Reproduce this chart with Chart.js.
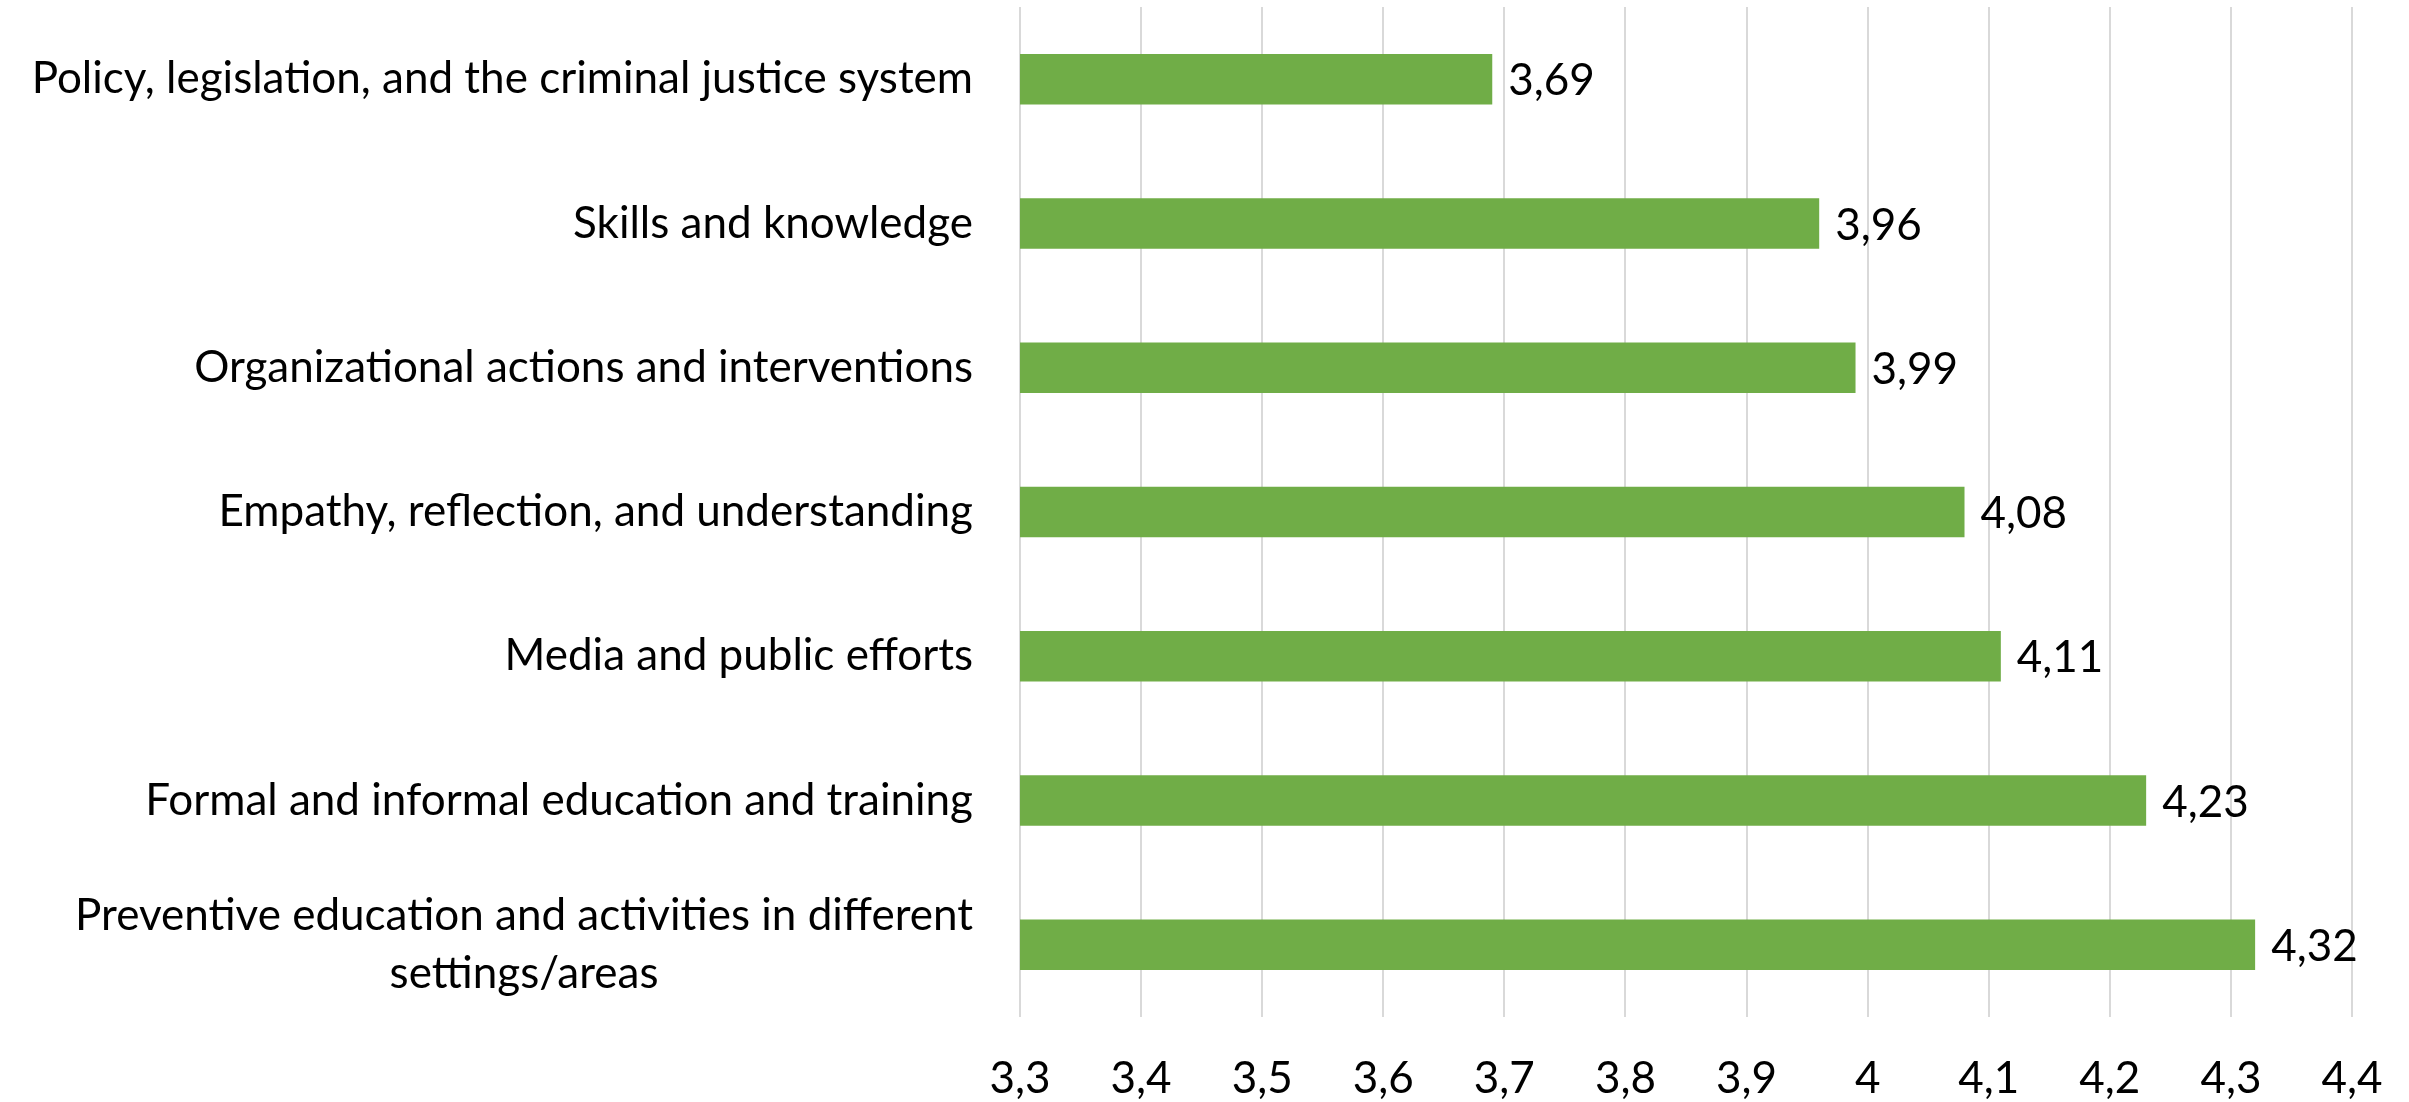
<!DOCTYPE html>
<html>
<head>
<meta charset="utf-8">
<script src="https://cdn.jsdelivr.net/npm/chart.js@4"></script>
<style>
  html, body { margin: 0; padding: 0; background: #fff; }
  #wrap { width: 2409px; height: 1102px; }
</style>
</head>
<body>
<div id="wrap"><canvas id="myChart" width="2409" height="1102"></canvas></div>
<script>
var categories = [
  ["Policy, legislation, and the criminal justice system"],
  ["Skills and knowledge"],
  ["Organizational actions and interventions"],
  ["Empathy, reflection, and understanding"],
  ["Media and public efforts"],
  ["Formal and informal education and training"],
  ["Preventive education and activities in different", "settings/areas"]
];
var scores = [3.69, 3.96, 3.99, 4.08, 4.11, 4.23, 4.32];

var axisMin = 3.3;
var axisMax = 4.4;
var axisStep = 0.1;

var FONT = "Lato, 'Liberation Sans', sans-serif";
var FONT_SIZE = 44;

function commaNum(v) {
  return String(Number(v.toFixed(2))).replace(".", ",");
}

// category names drawn left of the plot, multi-line ones centred on their widest line
var categoryLabels = {
  id: "categoryLabels",
  afterDraw: function (chart) {
    var ctx = chart.ctx;
    var yScale = chart.scales.y;
    var right = chart.chartArea.left - 47;
    var lineGap = 58;
    ctx.save();
    ctx.font = FONT_SIZE + "px " + FONT;
    ctx.fillStyle = "#000";
    ctx.textAlign = "center";
    ctx.textBaseline = "middle";
    categories.forEach(function (lines, i) {
      var w = Math.max.apply(null, lines.map(function (l) { return ctx.measureText(l).width; }));
      var cx = right - w / 2;
      var cy = yScale.getPixelForValue(i);
      var y0 = cy - (lines.length - 1) * lineGap / 2;
      lines.forEach(function (l, j) {
        ctx.fillText(l, cx, y0 + j * lineGap);
      });
    });
    ctx.restore();
  }
};

// value printed just past the end of each bar
var valueLabels = {
  id: "valueLabels",
  afterDatasetsDraw: function (chart) {
    var ctx = chart.ctx;
    var meta = chart.getDatasetMeta(0);
    ctx.save();
    ctx.font = FONT_SIZE + "px " + FONT;
    ctx.fillStyle = "#000";
    ctx.textAlign = "left";
    ctx.textBaseline = "middle";
    meta.data.forEach(function (bar, i) {
      ctx.fillText(commaNum(scores[i]), bar.x + 16, bar.y + 2);
    });
    ctx.restore();
  }
};

var data = {
  labels: categories.map(function (c) { return c.join(" "); }),
  datasets: [
    {
      data: scores,
      backgroundColor: "#70AD47",
      borderWidth: 0,
      barPercentage: 0.35,
      categoryPercentage: 1.0
    }
  ]
};

var config = {
  type: "bar",
  data: data,
  plugins: [categoryLabels, valueLabels],
  options: {
    indexAxis: "y",
    responsive: false,
    animation: false,
    layout: {
      padding: { left: 1020, right: 57, top: 7, bottom: 0 }
    },
    plugins: {
      legend: { display: false },
      tooltip: { enabled: false }
    },
    scales: {
      x: {
        min: axisMin,
        max: axisMax,
        border: { display: false },
        grid: { color: "#D9D9D9", lineWidth: 2, drawTicks: false },
        ticks: {
          stepSize: axisStep,
          padding: 35,
          color: "#000",
          font: { family: FONT, size: FONT_SIZE },
          callback: function (v) { return commaNum(v); }
        },
        afterFit: function (scale) {
          scale.height = 85;
          // edge labels fit inside the layout padding already
          scale.paddingLeft = 0;
          scale.paddingRight = 0;
        }
      },
      y: {
        display: false
      }
    }
  }
};

var myChart = document.getElementById("myChart").getContext("2d");

var chart1 = new Chart(myChart, config);
</script>
</body>
</html>
